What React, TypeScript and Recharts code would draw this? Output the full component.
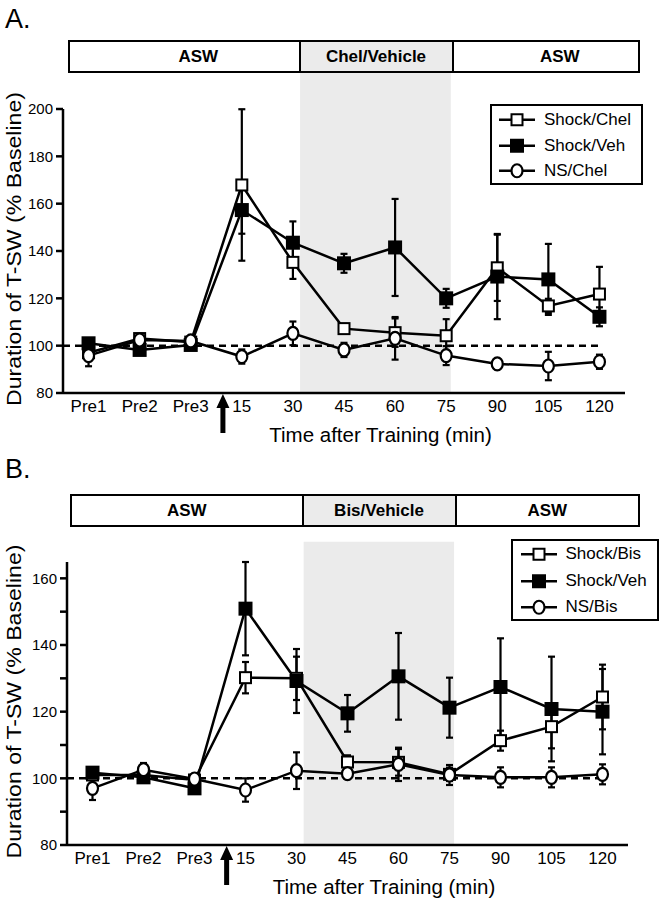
import React from "react";
import {
  ComposedChart,
  Line,
  XAxis,
  YAxis,
  ErrorBar,
  ReferenceArea,
  ReferenceLine,
  ReferenceDot,
  Legend,
  Label,
} from "recharts";

const FONT = '"Liberation Sans", Arial, Helvetica, sans-serif';
const SHADE = "#ebebeb";

const timeLabels = ["Pre1", "Pre2", "Pre3", "15", "30", "45", "60", "75", "90", "105", "120"];

// Panel A (chelerythrine)
const aShockChel = [97, 103, 101.5, 167.9, 135.2, 107.2, 105.5, 104.2, 132.9, 116.8, 121.8];
const aShockChelErr = [2, 2, 1.5, 32, 7, 2, 6, 7, 14, 3, 11.5];
const aShockVeh = [101, 98.2, 100.3, 157.3, 143.5, 134.8, 141.5, 120, 129.2, 128, 112.2];
const aShockVehErr = [2, 2, 1.5, 10, 9, 4, 20.5, 4, 18, 15, 4];
const aNsChel = [95.8, 102.4, 102, 95.4, 105.2, 98.2, 103.1, 95.8, 92.3, 91.4, 93.2];
const aNsChelErr = [4.5, 2, 1, 3, 5, 3, 9, 4, 2, 6, 3];

// Panel B (bisindolylmaleimide)
const bShockBis = [101, 101, 99.5, 130.2, 130, 104.9, 104.8, 101.2, 111.3, 115.5, 124.4];
const bShockBisErr = [1.5, 1.5, 1.5, 4.7, 6.5, 2, 4, 2, 3, 6.5, 9.7];
const bShockVeh = [101.7, 100.3, 97, 150.9, 129.2, 119.5, 130.6, 121.2, 127.4, 120.8, 120];
const bShockVehErr = [1.5, 1, 1.5, 14, 9.6, 5.5, 13, 9, 14.6, 15.7, 12.8];
const bNsBis = [97, 102.6, 99.8, 96.5, 102.3, 101.4, 104.2, 101, 100.3, 100.3, 101.2];
const bNsBisErr = [3.5, 2, 1.5, 3.5, 5.5, 1.5, 5, 3, 3, 3, 3];

const aYTicks = [80, 100, 120, 140, 160, 180, 200];
const bYTicks = [80, 90, 100, 110, 120, 130, 140, 150, 160];

type MarkerKind = "open" | "filled" | "circle";

function Marker({ kind, cx, cy }: { kind: MarkerKind; cx: number; cy: number }) {
  if (kind === "circle") {
    return <ellipse cx={cx} cy={cy} rx={5.5} ry={6.5} fill="#fff" stroke="#000" strokeWidth={2.2} />;
  }
  const s = kind === "filled" ? 12 : 11;
  return (
    <rect
      x={cx - s / 2}
      y={cy - s / 2}
      width={s}
      height={s}
      fill={kind === "filled" ? "#000" : "#fff"}
      stroke="#000"
      strokeWidth={2}
    />
  );
}

function Arrow(props: any) {
  const { cx, cy } = props;
  const d = `M${cx},${cy + 1} L${cx + 6.5},${cy + 15} L${cx + 2.5},${cy + 15} L${cx + 2.5},${cy + 40} L${cx - 2.5},${cy + 40} L${cx - 2.5},${cy + 15} L${cx - 6.5},${cy + 15} Z`;
  return <path d={d} fill="#000" />;
}

const panels = [
  {
    letter: "A.",
    top: 0,
    height: 450,
    margin: { top: 109, right: 36, bottom: 0, left: 0 },
    yWidth: 63,
    xHeight: 57,
    yDomain: [80, 200],
    yTicks: aYTicks,
    shadeTop: 217,
    header: {
      left: 68,
      top: 40,
      width: 572,
      height: 33,
      cells: [231, 153],
      sideShift: 28,
      texts: ["ASW", "Chel/Vehicle", "ASW"],
    },
    legend: { left: 490, top: 104, width: 153, height: 81, rowH: 25.5, padTop: 1, markLeft: 6, textLeft: 52 },
    series: [
      { key: "drug", name: "Shock/Chel", values: aShockChel, errors: aShockChelErr, marker: "open" as MarkerKind },
      { key: "veh", name: "Shock/Veh", values: aShockVeh, errors: aShockVehErr, marker: "filled" as MarkerKind },
      { key: "ns", name: "NS/Chel", values: aNsChel, errors: aNsChelErr, marker: "circle" as MarkerKind },
    ],
  },
  {
    letter: "B.",
    top: 450,
    height: 449,
    margin: { top: 112, right: 33, bottom: 0, left: 0 },
    yWidth: 67,
    xHeight: 54,
    yDomain: [80, 160],
    yTicks: bYTicks,
    shadeTop: 171,
    header: {
      left: 70,
      top: 44,
      width: 570,
      height: 33,
      cells: [232, 153],
      sideShift: 0,
      texts: ["ASW", "Bis/Vehicle", "ASW"],
    },
    legend: { left: 511, top: 89, width: 148, height: 82, rowH: 26.5, padTop: 0, markLeft: 6.5, textLeft: 52.5 },
    series: [
      { key: "drug", name: "Shock/Bis", values: bShockBis, errors: bShockBisErr, marker: "open" as MarkerKind },
      { key: "veh", name: "Shock/Veh", values: bShockVeh, errors: bShockVehErr, marker: "filled" as MarkerKind },
      { key: "ns", name: "NS/Bis", values: bNsBis, errors: bNsBisErr, marker: "circle" as MarkerKind },
    ],
  },
];

// drug application window and training time, in x-index units
const shadeFrom = 4.14;
const shadeTo = 7.09;
const trainingAt = 2.63;

function Panel({ p }: { p: (typeof panels)[number] }) {
  const data = timeLabels.map((_, i) => {
    const row: any = { x: i };
    p.series.forEach((s) => {
      row[s.key] = s.values[i];
      row[s.key + "Err"] = s.errors[i];
    });
    return row;
  });
  const lg = p.legend;
  const hd = p.header;

  const renderLegend = () => (
    <div
      style={{
        boxSizing: "border-box",
        width: lg.width,
        height: lg.height,
        border: "2.5px solid #000",
        background: "#fff",
        paddingTop: lg.padTop,
        fontFamily: FONT,
        fontSize: 17,
        color: "#000",
      }}
    >
      {p.series.map((s) => (
        <div key={s.key} style={{ position: "relative", height: lg.rowH }}>
          <svg width={38} height={lg.rowH} style={{ position: "absolute", left: lg.markLeft, top: 0 }}>
            <line x1={1} x2={37} y1={lg.rowH / 2} y2={lg.rowH / 2} stroke="#000" strokeWidth={2.5} />
            <Marker kind={s.marker} cx={19} cy={lg.rowH / 2} />
          </svg>
          <span style={{ position: "absolute", left: lg.textLeft, top: 0, lineHeight: `${lg.rowH}px` }}>{s.name}</span>
        </div>
      ))}
    </div>
  );

  const drawOrder = ["drug", "veh", "ns"];

  return (
    <div style={{ position: "absolute", left: 0, top: p.top, width: 661, height: p.height }}>
      <ComposedChart width={661} height={p.height} data={data} margin={p.margin}>
        <ReferenceArea
          x1={shadeFrom}
          x2={shadeTo}
          y1={p.yDomain[0]}
          y2={p.shadeTop}
          fill={SHADE}
          fillOpacity={1}
          stroke="none"
          ifOverflow="visible"
        />
        <XAxis
          dataKey="x"
          type="number"
          domain={[-0.5, 10.5]}
          ticks={timeLabels.map((_, i) => i)}
          interval={0}
          tickFormatter={(i: number) => timeLabels[i]}
          height={p.xHeight}
          tickLine={false}
          tickSize={0}
          tickMargin={7}
          axisLine={{ stroke: "#000", strokeWidth: 2.5 }}
          tick={{ fontSize: 17, fill: "#000", fontFamily: FONT }}
        >
          <Label
            content={({ viewBox }: any) => (
              <text
                x={viewBox.x + viewBox.width * 0.565}
                y={viewBox.y + 41}
                textAnchor="middle"
                dominantBaseline="central"
                fontSize={20.5}
                fontFamily={FONT}
                fill="#000"
              >
                Time after Training (min)
              </text>
            )}
          />
        </XAxis>
        <YAxis
          type="number"
          domain={p.yDomain}
          ticks={p.yTicks}
          interval={0}
          tickFormatter={(v: number) => (v % 20 === 0 ? String(v) : "")}
          width={p.yWidth}
          tickSize={7}
          tickMargin={3}
          axisLine={{ stroke: "#000", strokeWidth: 2.5 }}
          tickLine={{ stroke: "#000", strokeWidth: 2.5 }}
          tick={{ fontSize: 15, fill: "#000", fontFamily: FONT }}
        >
          <Label
            content={({ viewBox }: any) => {
              const cy = viewBox.y + viewBox.height / 2 - 2;
              return (
                <text
                  x={13}
                  y={cy}
                  transform={`rotate(-90 13 ${cy})`}
                  textAnchor="middle"
                  dominantBaseline="central"
                  fontSize={21}
                  fontFamily={FONT}
                  fill="#000"
                  textLength={314}
                  lengthAdjust="spacingAndGlyphs"
                >
                  Duration of T-SW (% Baseline)
                </text>
              );
            }}
          />
        </YAxis>
        <ReferenceLine
          segment={[
            { x: -0.5, y: 100 },
            { x: 10, y: 100 },
          ]}
          stroke="#000"
          strokeWidth={2.5}
          strokeDasharray="7 5"
          ifOverflow="visible"
        />
        {drawOrder.map((k) => {
          const s = p.series.find((q) => q.key === k)!;
          return (
            <Line
              key={s.key}
              dataKey={s.key}
              name={s.name}
              type="linear"
              stroke="#000"
              strokeWidth={2.5}
              isAnimationActive={false}
              activeDot={false}
              legendType="none"
              dot={(d: any) => <Marker key={`${s.key}-${d.index}`} kind={s.marker} cx={d.cx} cy={d.cy} />}
            >
              <ErrorBar dataKey={s.key + "Err"} width={3.5} stroke="#000" strokeWidth={2.2} direction="y" />
            </Line>
          );
        })}
        <ReferenceDot x={trainingAt} y={p.yDomain[0]} ifOverflow="visible" shape={Arrow} />
        <Legend
          layout="vertical"
          align="center"
          verticalAlign="middle"
          content={renderLegend}
          wrapperStyle={{ left: lg.left, top: lg.top, width: lg.width, height: lg.height }}
        />
      </ComposedChart>

      <div
        style={{
          position: "absolute",
          left: 5,
          top: 4,
          fontFamily: FONT,
          fontSize: 27,
          lineHeight: "30px",
          color: "#000",
        }}
      >
        {p.letter}
      </div>
      <div
        style={{
          position: "absolute",
          boxSizing: "border-box",
          left: hd.left,
          top: hd.top,
          width: hd.width,
          height: hd.height,
          border: "2.5px solid #000",
          display: "flex",
          fontFamily: FONT,
          fontWeight: "bold",
          fontSize: 17,
          color: "#000",
          background: "#fff",
        }}
      >
        {hd.texts.map((t, i) => (
          <div
            key={i}
            style={{
              boxSizing: "border-box",
              width: i < 2 ? hd.cells[i] - (i === 0 ? 2.5 : 0) : undefined,
              flex: i === 2 ? 1 : undefined,
              borderLeft: i > 0 ? "2.5px solid #000" : undefined,
              background: i === 1 ? SHADE : "#fff",
              paddingLeft: i === 1 ? 0 : hd.sideShift,
              display: "flex",
              alignItems: "center",
              justifyContent: "center",
            }}
          >
            {t}
          </div>
        ))}
      </div>
    </div>
  );
}

export default function App() {
  return (
    <div
      style={{
        position: "absolute",
        left: 0,
        top: 0,
        width: 661,
        height: 899,
        background: "#fff",
        overflow: "hidden",
      }}
    >
      {panels.map((p) => (
        <Panel key={p.letter} p={p} />
      ))}
    </div>
  );
}
